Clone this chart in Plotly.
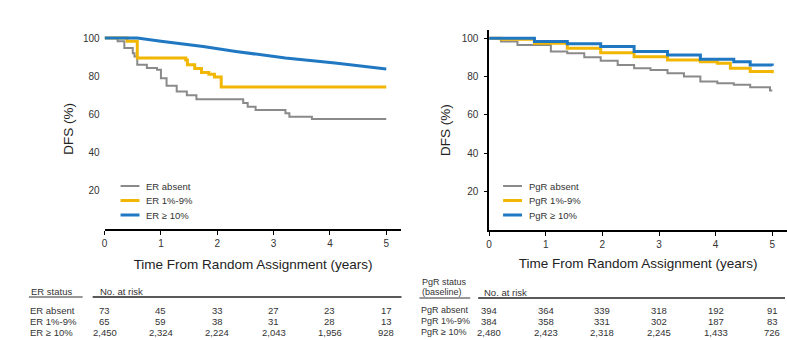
import plotly.graph_objects as go

# ---------------- data ----------------
groups_left = ["ER absent", "ER 1%-9%", "ER ≥ 10%"]
groups_right = ["PgR absent", "PgR 1%-9%", "PgR ≥ 10%"]
colors = ["#8a8a8a", "#f2b705", "#1f78c1"]
widths = [2, 3, 3]

# Left panel KM curves (time in years, DFS %)
l_gray_t = [0, 0.23, 0.35, 0.5, 0.53, 0.58, 0.75, 0.93, 1.0, 1.1, 1.28, 1.46, 1.63, 2.46, 2.54, 2.68, 3.21, 3.28, 3.68, 5.0]
l_gray_s = [100, 98.3, 94.8, 92, 90.4, 86, 84.3, 83.4, 79, 75, 72, 70, 68, 66, 64, 62.3, 60.6, 58.8, 57.6, 57.6]
l_gold_t = [0, 0.4, 0.58, 1.44, 1.47, 1.6, 1.72, 1.85, 1.95, 2.07, 5.0]
l_gold_s = [100, 98.3, 89.5, 88.5, 86, 84, 82, 81, 79.6, 74.3, 74.3]
l_blue_t = [0, 0.58, 1.0, 1.75, 2.33, 3.21, 4.09, 5.0]
l_blue_s = [100, 100, 98.3, 95.6, 93, 89.5, 86.9, 83.8]

# Right panel KM curves
r_gray_t = [0, 0.21, 0.5, 1.09, 1.38, 1.68, 1.97, 2.27, 2.56, 2.85, 3.15, 3.44, 3.73, 4.03, 4.32, 4.61, 4.96, 5.0]
r_gray_s = [100, 98.3, 96.5, 93.1, 92.2, 90.1, 88.3, 86.1, 84.3, 83.5, 81.7, 80, 77.4, 76.5, 75.7, 74.4, 72.7, 72.7]
r_gold_t = [0, 0.21, 0.8, 1.38, 1.97, 2.56, 3.15, 3.73, 4.03, 4.26, 4.61, 5.0]
r_gold_s = [100, 99.5, 97.4, 94.8, 92.5, 90.4, 88.7, 87.8, 87, 84.3, 82.6, 81.7]
r_blue_t = [0, 0.39, 0.8, 1.38, 1.97, 2.56, 3.15, 3.73, 4.32, 4.61, 5.0]
r_blue_s = [100, 100, 98.3, 97.1, 95.7, 93.1, 91.3, 89.1, 87.8, 86.1, 85.6]

x_ticks = [0, 1, 2, 3, 4, 5]
y_ticks = [20, 40, 60, 80, 100]

# numbers at risk
risk_times = [0, 1, 2, 3, 4, 5]
left_risk = [
    ["73", "45", "33", "27", "23", "17"],
    ["65", "59", "38", "31", "28", "13"],
    ["2,450", "2,324", "2,224", "2,043", "1,956", "928"],
]
right_risk = [
    ["394", "364", "339", "318", "192", "91"],
    ["384", "358", "331", "302", "187", "83"],
    ["2,480", "2,423", "2,318", "2,245", "1,433", "726"],
]

W, H = 787, 340
def px(x):
    return x / W
def py(y):
    return (H - y) / H

fig = go.Figure()

left_curves = [(l_gray_t, l_gray_s), (l_gold_t, l_gold_s), (l_blue_t, l_blue_s)]
right_curves = [(r_gray_t, r_gray_s), (r_gold_t, r_gold_s), (r_blue_t, r_blue_s)]
left_shapes = ["hv", "hv", "linear"]
for i, (t, s) in enumerate(left_curves):
    fig.add_trace(go.Scatter(x=t, y=s, mode="lines", line=dict(color=colors[i], width=widths[i], shape=left_shapes[i]),
                             name=groups_left[i], showlegend=False, xaxis="x", yaxis="y"))
for i, (t, s) in enumerate(right_curves):
    fig.add_trace(go.Scatter(x=t, y=s, mode="lines", line=dict(color=colors[i], width=widths[i], shape="hv"),
                             name=groups_right[i], showlegend=False, xaxis="x2", yaxis="y2"))

tickfont = dict(family="Liberation Sans, Arial, sans-serif", size=10, color="#333")
titlefont = dict(family="Liberation Sans, Arial, sans-serif", size=13.5, color="#222")

fig.update_layout(
    width=W, height=H, margin=dict(l=0, r=0, t=0, b=0),
    paper_bgcolor="white", plot_bgcolor="white",
    xaxis=dict(domain=[px(102), px(400)], range=[0, 5.27], tickvals=x_ticks, showline=True, linecolor="black",
               linewidth=2, ticks="outside", ticklen=4, tickcolor="black", showgrid=False, zeroline=False,
               tickfont=tickfont, title=dict(text="Time From Random Assignment (years)", font=titlefont, standoff=12),
               anchor="y"),
    yaxis=dict(domain=[py(229), py(28.5)], range=[0, 105], tickvals=y_ticks, showline=False, ticks="",
               showgrid=False, zeroline=False, tickfont=tickfont, ticklabelstandoff=4,
               title=dict(text="DFS (%)", font=titlefont, standoff=6), anchor="x"),
    xaxis2=dict(domain=[px(488), 1.0], range=[0, 5.26], tickvals=x_ticks, showline=True, linecolor="black",
                linewidth=1.5, ticks="outside", ticklen=4, tickcolor="black", showgrid=False, zeroline=False,
                tickfont=tickfont, title=dict(text="Time From Random Assignment (years)", font=titlefont, standoff=10),
                anchor="y2"),
    yaxis2=dict(domain=[py(230), py(30)], range=[0, 104.3], tickvals=y_ticks, showline=True, linecolor="black",
                linewidth=1.5, ticks="outside", ticklen=3, tickcolor="black", showgrid=False, zeroline=False,
                tickfont=tickfont, ticklabelstandoff=4,
                title=dict(text="DFS (%)", font=titlefont, standoff=8), anchor="x2"),
)

shapes = []
annotations = []
legfont = dict(family="Liberation Sans, Arial, sans-serif", size=9.5, color="#333")

# manual legends
for panel, (x0, labels) in enumerate([(118, groups_left), (502, groups_right)]):
    for i, lab in enumerate(labels):
        yy = 186 + 14.5 * i
        shapes.append(dict(type="line", xref="paper", yref="paper", x0=px(x0), x1=px(x0 + 19), y0=py(yy), y1=py(yy),
                           line=dict(color=colors[i], width=widths[i])))
        annotations.append(dict(xref="paper", yref="paper", x=px(x0 + 24), y=py(yy), text=lab, showarrow=False,
                                xanchor="left", yanchor="middle", font=legfont))

tabfont = dict(family="Liberation Sans, Arial, sans-serif", size=9.5, color="#333")
labfont = dict(family="Liberation Sans, Arial, sans-serif", size=9, color="#333")
row_y = [310, 321, 332]

# left table
annotations.append(dict(xref="paper", yref="paper", x=px(26), y=py(291), text="ER status", showarrow=False,
                        xanchor="left", yanchor="middle", font=tabfont))
annotations.append(dict(xref="paper", yref="paper", x=px(95), y=py(291), text="No. at risk", showarrow=False,
                        xanchor="left", yanchor="middle", font=tabfont))
shapes.append(dict(type="line", xref="paper", yref="paper", x0=px(26), x1=px(80), y0=py(297), y1=py(297),
                   line=dict(color="#333", width=1)))
shapes.append(dict(type="line", xref="paper", yref="paper", x0=px(90), x1=px(400), y0=py(297), y1=py(297),
                   line=dict(color="#222", width=1.5)))
for r, lab in enumerate(groups_left):
    annotations.append(dict(xref="paper", yref="paper", x=px(25), y=py(row_y[r]), text=lab, showarrow=False,
                            xanchor="left", yanchor="middle", font=tabfont))
    for c, t in enumerate(risk_times):
        annotations.append(dict(xref="x", yref="paper", x=t, y=py(row_y[r]), text=left_risk[r][c], showarrow=False,
                                xanchor="center", yanchor="middle", font=tabfont))

# right table
annotations.append(dict(xref="paper", yref="paper", x=px(419), y=py(282), text="PgR status", showarrow=False,
                        xanchor="left", yanchor="middle", font=labfont))
annotations.append(dict(xref="paper", yref="paper", x=px(419), y=py(292), text="(baseline)", showarrow=False,
                        xanchor="left", yanchor="middle", font=labfont))
annotations.append(dict(xref="paper", yref="paper", x=px(481), y=py(292), text="No. at risk", showarrow=False,
                        xanchor="left", yanchor="middle", font=tabfont))
shapes.append(dict(type="line", xref="paper", yref="paper", x0=px(418), x1=px(469), y0=py(298), y1=py(298),
                   line=dict(color="#333", width=1)))
shapes.append(dict(type="line", xref="paper", yref="paper", x0=px(477), x1=px(785), y0=py(298), y1=py(298),
                   line=dict(color="#222", width=1.5)))
for r, lab in enumerate(groups_right):
    annotations.append(dict(xref="paper", yref="paper", x=px(418), y=py(row_y[r]), text=lab, showarrow=False,
                            xanchor="left", yanchor="middle", font=labfont))
    for c, t in enumerate(risk_times):
        annotations.append(dict(xref="x2", yref="paper", x=t, y=py(row_y[r]), text=right_risk[r][c], showarrow=False,
                                xanchor="center", yanchor="middle", font=tabfont))

fig.update_layout(shapes=shapes, annotations=annotations)
fig.write_html("out.html", config={"displayModeBar": False},
               post_script="document.body.style.margin='0';document.body.style.overflow='hidden';")
